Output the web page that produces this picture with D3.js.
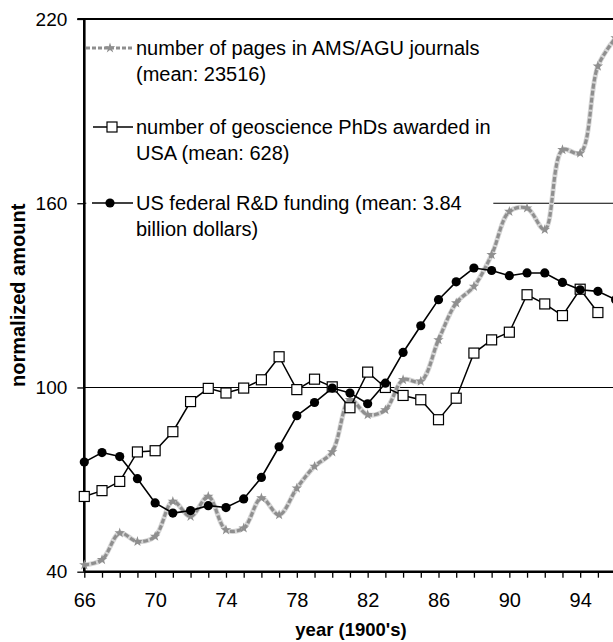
<!DOCTYPE html>
<html>
<head>
<meta charset="utf-8">
<script src="https://cdn.jsdelivr.net/npm/d3@7"></script>
<style>
  body { margin: 0; background: #fff; }
  svg { display: block; font-family: 'Liberation Sans', Arial, sans-serif; }
</style>
</head>
<body>
<div id="chart"></div>
<script>
// year (1900's)
const years = [66, 67, 68, 69, 70, 71, 72, 73, 74, 75, 76, 77, 78, 79, 80,
  81, 82, 83, 84, 85, 86, 87, 88, 89, 90, 91, 92, 93, 94, 95, 96]
const xLabels = [66, 70, 74, 78, 82, 86, 90, 94]
const yTicks = [40, 100, 160, 220]
const gridValues = [100, 160]

// normalized amounts
const pages = [42.2, 43.9, 52.6, 49.8, 51.5, 62.9, 58.0, 64.5, 53.6, 54.2, 64.0,
  58.5, 67.2, 74.3, 79.0, 96.0, 91.1, 92.7, 102.5, 102.0, 115.5, 127.5, 132.9,
  143.2, 157.3, 158.4, 151.4, 177.4, 176.3, 204.6, 213.8]
const phds = [64.5, 66.4, 69.4, 79.0, 79.4, 85.6, 95.4, 99.7, 98.2, 99.8, 102.5,
  110.0, 99.3, 102.7, 100.2, 93.4, 105.0, 100.0, 97.4, 96.0, 89.5, 96.5, 111.2,
  115.5, 118.0, 130.2, 127.2, 123.4, 132.0, 124.4]
const funding = [75.7, 78.8, 77.5, 70.3, 62.4, 59.1, 59.9, 61.5, 60.9, 63.7, 70.7,
  80.7, 90.8, 95.1, 99.8, 98.2, 94.7, 101.4, 111.4, 120.1, 128.6, 134.4, 138.9,
  138.1, 136.4, 137.3, 137.3, 134.2, 131.8, 131.3, 128.6]

const legendLabels = [
  ['number of pages in AMS/AGU journals', '(mean: 23516)'],
  ['number of geoscience PhDs awarded in', 'USA (mean: 628)'],
  ['US federal R&D funding (mean: 3.84', 'billion dollars)']
]

const width = 613
const height = 642
const grey = '#8f8f8f'

const svg = d3.select('#chart')
  .append('svg')
  .attr('width', width)
  .attr('height', height)

const x = d3.scaleLinear().domain([66, 96]).range([84.3, 615.6])
const y = d3.scaleLinear().domain([40, 220]).range([571.7, 19])

// gridlines
svg.append('g')
  .selectAll('line')
  .data(gridValues)
  .join('line')
  .attr('x1', x(66))
  .attr('x2', width)
  .attr('y1', d => y(d))
  .attr('y2', d => y(d))
  .attr('stroke', '#000')
  .attr('stroke-width', 1.1)

// white legend box hides the grid behind the text
svg.append('rect')
  .attr('x', x(66) + 2)
  .attr('y', y(220) + 2)
  .attr('width', 407)
  .attr('height', 228)
  .attr('fill', '#fff')

// axes
const xAxis = g => g
  .attr('transform', `translate(0,${y(40)})`)
  .call(d3.axisBottom(x).tickValues(years).tickSize(6).tickPadding(15)
    .tickFormat(d => xLabels.includes(d) ? d : ''))
  .call(g => g.select('.domain').remove())
  .call(g => g.selectAll('.tick line').attr('stroke-width', 1.3))
  .call(g => g.selectAll('text').attr('font-size', 20).attr('fill', '#000')
    .attr('font-family', "'Liberation Sans', Arial, sans-serif"))

const yAxis = g => g
  .attr('transform', `translate(${x(66)},0)`)
  .call(d3.axisLeft(y).tickValues(yTicks).tickSize(7).tickPadding(10))
  .call(g => g.select('.domain').remove())
  .call(g => g.selectAll('.tick line').attr('stroke-width', 1.3))
  .call(g => g.selectAll('text').attr('font-size', 19).attr('fill', '#000')
    .attr('font-family', "'Liberation Sans', Arial, sans-serif"))

svg.append('g').call(xAxis)
svg.append('g').call(yAxis)

// frame lines
svg.append('line')
  .attr('x1', x(66) - 7).attr('x2', width)
  .attr('y1', y(220)).attr('y2', y(220))
  .attr('stroke', '#000').attr('stroke-width', 2.2)
svg.append('line')
  .attr('x1', x(66)).attr('x2', width)
  .attr('y1', y(40)).attr('y2', y(40))
  .attr('stroke', '#000').attr('stroke-width', 2.6)
svg.append('line')
  .attr('x1', x(66)).attr('x2', x(66))
  .attr('y1', y(220)).attr('y2', y(40))
  .attr('stroke', '#000').attr('stroke-width', 2.6)

// axis titles
svg.append('text')
  .attr('transform', `translate(25,${(y(220) + y(40)) / 2}) rotate(-90)`)
  .attr('text-anchor', 'middle')
  .attr('font-weight', 'bold')
  .attr('font-size', 20)
  .text('normalized amount')

svg.append('text')
  .attr('x', 351)
  .attr('y', 636)
  .attr('text-anchor', 'middle')
  .attr('font-weight', 'bold')
  .attr('font-size', 18.5)
  .text("year (1900's)")

// series
const plot = svg.append('g')

const smooth = d3.line()
  .x((d, i) => x(years[i]))
  .y(d => y(d))
  .curve(d3.curveCatmullRom.alpha(0.5))

const straight = d3.line()
  .x((d, i) => x(years[i]))
  .y(d => y(d))

const star = d3.symbol().type(d3.symbolStar).size(34)

plot.append('path')
  .attr('d', smooth(pages))
  .attr('fill', 'none')
  .attr('stroke', '#d6d6d6')
  .attr('stroke-width', 5)
plot.append('path')
  .attr('d', smooth(pages))
  .attr('fill', 'none')
  .attr('stroke', grey)
  .attr('stroke-width', 3.2)
  .attr('stroke-dasharray', '5,2')
plot.append('g')
  .selectAll('path')
  .data(pages)
  .join('path')
  .attr('d', star)
  .attr('transform', (d, i) => `translate(${x(years[i])},${y(d)})`)
  .attr('fill', grey)

plot.append('path')
  .attr('d', straight(phds))
  .attr('fill', 'none')
  .attr('stroke', '#000')
  .attr('stroke-width', 1.5)
plot.append('g')
  .selectAll('rect')
  .data(phds)
  .join('rect')
  .attr('x', (d, i) => x(years[i]) - 5)
  .attr('y', d => y(d) - 5)
  .attr('width', 10)
  .attr('height', 10)
  .attr('fill', '#fff')
  .attr('stroke', '#000')
  .attr('stroke-width', 1.2)

plot.append('path')
  .attr('d', straight(funding))
  .attr('fill', 'none')
  .attr('stroke', '#000')
  .attr('stroke-width', 1.6)
plot.append('g')
  .selectAll('circle')
  .data(funding)
  .join('circle')
  .attr('cx', (d, i) => x(years[i]))
  .attr('cy', d => y(d))
  .attr('r', 4.6)
  .attr('fill', '#000')

// legend
const legend = svg.append('g')
const rowY = [48, 127, 203]

legend.selectAll('text')
  .data(legendLabels)
  .join('text')
  .attr('x', 136)
  .attr('y', (d, i) => rowY[i] + 6.5)
  .attr('font-size', 20)
  .selectAll('tspan')
  .data(d => d)
  .join('tspan')
  .attr('x', 136)
  .attr('dy', (d, j) => j === 0 ? 0 : 26)
  .text(d => d)

legend.append('line')
  .attr('x1', 86).attr('x2', 133)
  .attr('y1', rowY[0]).attr('y2', rowY[0])
  .attr('stroke', grey).attr('stroke-width', 3)
  .attr('stroke-dasharray', '4,2')
legend.append('path')
  .attr('d', star)
  .attr('transform', `translate(110,${rowY[0]})`)
  .attr('fill', grey)

legend.append('line')
  .attr('x1', 93).attr('x2', 133)
  .attr('y1', rowY[1]).attr('y2', rowY[1])
  .attr('stroke', '#000').attr('stroke-width', 1.5)
legend.append('rect')
  .attr('x', 107).attr('y', rowY[1] - 5)
  .attr('width', 10).attr('height', 10)
  .attr('fill', '#fff').attr('stroke', '#000').attr('stroke-width', 1.2)

legend.append('line')
  .attr('x1', 92).attr('x2', 133)
  .attr('y1', rowY[2]).attr('y2', rowY[2])
  .attr('stroke', '#000').attr('stroke-width', 1.5)
legend.append('circle')
  .attr('cx', 110).attr('cy', rowY[2])
  .attr('r', 4.6).attr('fill', '#000')
</script>
</body>
</html>
